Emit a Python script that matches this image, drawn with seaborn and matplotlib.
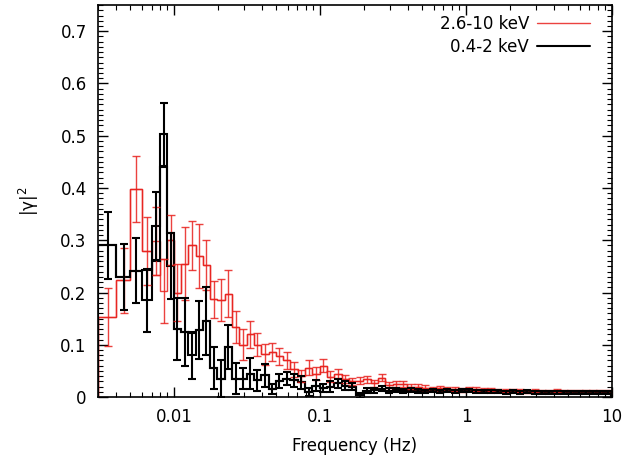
import numpy as np
import matplotlib
matplotlib.use('Agg')
import matplotlib.pyplot as plt
import matplotlib.ticker as mticker
import seaborn as sns

# bin centres (Hz): linear near 0.003-0.01, log-rebinned above
freq = [0.0035, 0.0045, 0.0055, 0.0065, 0.0075, 0.0085, 0.0095,
        0.01050, 0.01178, 0.01322, 0.01483, 0.01664, 0.01867, 0.02095, 0.02350, 0.02637, 0.02959,
        0.03320, 0.03725, 0.04180, 0.04690, 0.05262, 0.05904, 0.06625, 0.07433, 0.08340, 0.09358,
        0.1050, 0.1178, 0.1322, 0.1483, 0.1664, 0.1867, 0.2095, 0.2350, 0.2637, 0.2959,
        0.3320, 0.3725, 0.4180, 0.4690, 0.5262, 0.5904, 0.6625, 0.7433, 0.8340, 0.9358,
        1.050, 1.178, 1.322, 1.483, 1.664, 1.867, 2.095, 2.350, 2.637, 2.959,
        3.320, 3.725, 4.180, 4.690, 5.262, 5.904, 6.625, 7.433, 8.340, 9.358]

hard = [0.153, 0.223, 0.398, 0.280, 0.298, 0.203, 0.300,
        0.200, 0.255, 0.290, 0.270, 0.252, 0.187, 0.185, 0.198, 0.134, 0.100,
        0.120, 0.100, 0.082, 0.086, 0.078, 0.070, 0.053, 0.040, 0.056, 0.045,
        0.060, 0.039, 0.045, 0.035, 0.030, 0.031, 0.034, 0.026, 0.037, 0.023,
        0.025, 0.025, 0.020, 0.020, 0.018, 0.016, 0.017, 0.015, 0.016, 0.014,
        0.016, 0.015, 0.013, 0.014, 0.012, 0.012, 0.013, 0.012, 0.011, 0.012,
        0.011, 0.010, 0.012, 0.011, 0.010, 0.011, 0.010, 0.010, 0.011, 0.010]
hard_err = [0.056, 0.063, 0.064, 0.065, 0.065, 0.061, 0.048,
            0.055, 0.070, 0.046, 0.062, 0.048, 0.035, 0.040, 0.045, 0.030, 0.030,
            0.026, 0.022, 0.020, 0.018, 0.016, 0.016, 0.014, 0.012, 0.014, 0.012,
            0.013, 0.010, 0.008, 0.008, 0.007, 0.007, 0.007, 0.006, 0.007, 0.006,
            0.006, 0.005, 0.005, 0.005, 0.005, 0.004, 0.004, 0.004, 0.004, 0.004,
            0.004, 0.004, 0.004, 0.003, 0.003, 0.003, 0.003, 0.003, 0.003, 0.003,
            0.003, 0.003, 0.003, 0.003, 0.003, 0.003, 0.003, 0.003, 0.003, 0.003]
# second step level seen in a few bins (the small boxes)
hard_alt = [0.153, 0.223, 0.398, 0.280, 0.233, 0.264, 0.300] + [None] * 60

soft = [0.290, 0.230, 0.242, 0.185, 0.328, 0.503, 0.250,
        0.130, 0.125, 0.080, 0.128, 0.145, 0.055, 0.035, 0.095, 0.035, 0.035,
        0.045, 0.032, 0.042, 0.015, 0.031, 0.035, 0.032, 0.028, 0.010, 0.022,
        0.017, 0.020, 0.026, 0.022, 0.020, 0.003, 0.012, 0.013, 0.016, 0.012,
        0.013, 0.011, 0.014, 0.012, 0.011, 0.012, 0.010, 0.013, 0.011, 0.012,
        0.012, 0.011, 0.010, 0.011, 0.010, 0.009, 0.010, 0.009, 0.010, 0.008,
        0.009, 0.009, 0.008, 0.009, 0.009, 0.008, 0.009, 0.008, 0.009, 0.008]
soft_err = [0.065, 0.063, 0.063, 0.060, 0.065, 0.060, 0.063,
            0.060, 0.065, 0.045, 0.055, 0.065, 0.040, 0.035, 0.042, 0.030, 0.020,
            0.030, 0.020, 0.022, 0.010, 0.014, 0.012, 0.012, 0.012, 0.008, 0.010,
            0.008, 0.010, 0.008, 0.008, 0.007, 0.004, 0.005, 0.005, 0.005, 0.005,
            0.004, 0.004, 0.004, 0.004, 0.003, 0.003, 0.003, 0.003, 0.003, 0.003,
            0.003, 0.003, 0.003, 0.003, 0.003, 0.003, 0.003, 0.003, 0.003, 0.003,
            0.003, 0.003, 0.003, 0.003, 0.003, 0.003, 0.003, 0.003, 0.003, 0.003]
soft_alt = [0.290, 0.230, 0.242, 0.244, 0.260, 0.441, 0.313,
            0.130, 0.125, 0.122] + [None] * 57

sns.set_theme(style="ticks")
plt.rcParams.update({
    'font.family': 'DejaVu Sans',
    'font.size': 12,
    'text.color': 'black',
    'axes.labelcolor': 'black',
    'axes.edgecolor': 'black',
    'xtick.color': 'black',
    'ytick.color': 'black',
    'xtick.direction': 'in',
    'ytick.direction': 'in',
    'xtick.top': True,
    'ytick.right': True,
})

f = np.array(freq)
mid = (f[1:] + f[:-1]) / 2
edges = np.concatenate([[f[0] - (f[1] - f[0]) / 2], mid, [f[-1] + (f[-1] - f[-2]) / 2]])


def fill_alt(alt, base):
    return np.array([b if a is None else a for a, b in zip(alt, base)])


fig, ax = plt.subplots(figsize=(6.27, 4.63), dpi=100)
fig.subplots_adjust(left=0.156, right=0.976, bottom=0.1425, top=0.989)

red = '#e8211d'
ax.stairs(fill_alt(hard_alt, hard), edges, color=red, lw=1.0, alpha=0.85)
ax.stairs(hard, edges, color=red, lw=1.0, alpha=0.85, label='2.6-10 keV')
ax.errorbar(freq, hard, yerr=hard_err, fmt='none', ecolor=red, elinewidth=1.0,
            capsize=3, capthick=1.0, alpha=0.85)

ax.stairs(fill_alt(soft_alt, soft), edges, color='black', lw=1.5)
ax.stairs(soft, edges, color='black', lw=1.5, label='0.4-2 keV')
ax.errorbar(freq, soft, yerr=soft_err, fmt='none', ecolor='black', elinewidth=1.5,
            capsize=3, capthick=1.5)

ax.set_xscale('log')
ax.set_xlim(0.003, 10)
ax.set_ylim(0, 0.75)
ax.xaxis.set_major_locator(mticker.FixedLocator([0.01, 0.1, 1, 10]))
ax.xaxis.set_major_formatter(mticker.FixedFormatter(['0.01', '0.1', '1', '10']))
ax.xaxis.set_minor_locator(mticker.LogLocator(base=10, subs=np.arange(2, 10)))
ax.xaxis.set_minor_formatter(mticker.NullFormatter())
ax.yaxis.set_major_locator(mticker.MultipleLocator(0.1))
ax.yaxis.set_minor_locator(mticker.MultipleLocator(0.01))
ax.yaxis.set_major_formatter(mticker.FuncFormatter(lambda v, p: '0' if abs(v) < 1e-9 else f'{v:.1f}'))

ax.tick_params(which='major', length=7, width=1, labelsize=12, pad=8)
ax.tick_params(which='minor', length=3.5, width=0.8)
for s in ax.spines.values():
    s.set_linewidth(1.2)

ax.set_xlabel('Frequency (Hz)', fontsize=12, labelpad=8)
ax.set_ylabel('|γ|$^2$', fontsize=12, labelpad=14)

ax.legend(loc='upper right', bbox_to_anchor=(0.97, 0.992), frameon=False,
          markerfirst=False, fontsize=12, handlelength=3.2, borderaxespad=0,
          labelspacing=0.3, handletextpad=0.45)

plt.savefig('out.png', dpi=100)
plt.close()
